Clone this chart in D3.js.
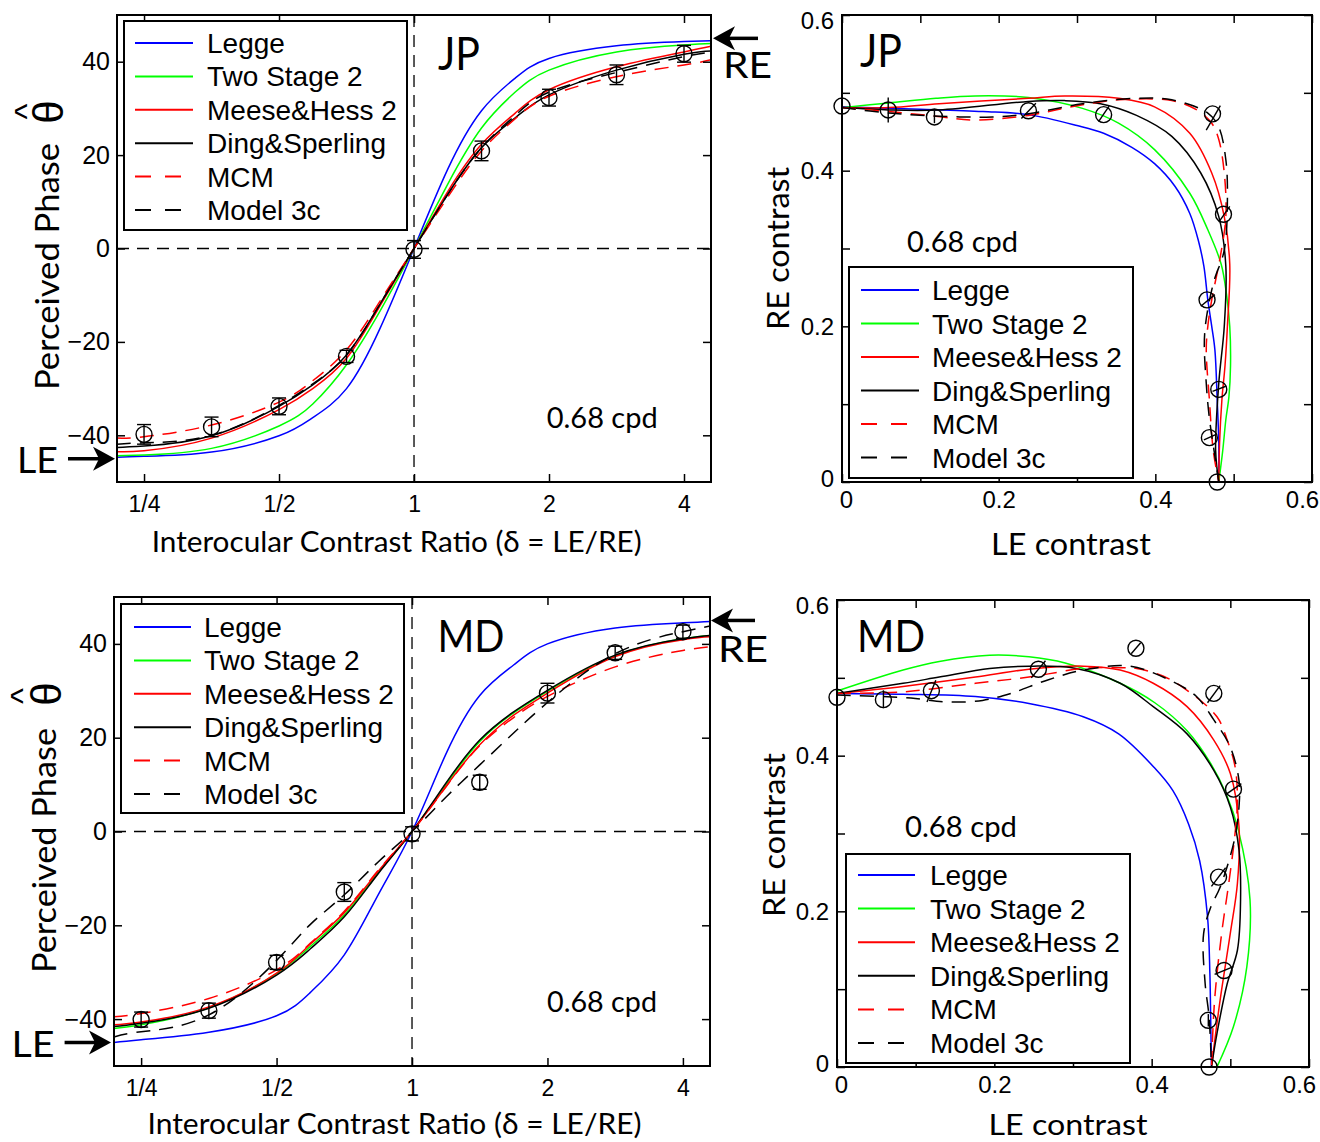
<!DOCTYPE html>
<html><head><meta charset="utf-8">
<script src="https://cdn.jsdelivr.net/npm/d3@7"></script>
<style>body{margin:0;background:#fff}svg{display:block}</style>
</head><body>
<svg id="c" width="1320" height="1142"></svg>
<script>
// ---------------- DATA ----------------
const seriesNames = ["Legge","Two Stage 2","Meese&Hess 2","Ding&Sperling","MCM","Model 3c"];

// interocular contrast ratio (LE/RE) axis
const ratioDomain = [0.2176, 4.5948];
const ratioTicks = [0.25, 0.5, 1, 2, 4];
const ratioTickLabels = ["1/4","1/2","1","2","4"];
const phaseDomain = [-50, 50];
const phaseTicks = [-40, -20, 0, 20, 40];
const eyeAsymptote = [-45, 45];           // LE / RE arrows

// ratios at which the model curves were read
const sampleRatios = [0.2176,0.25,0.3536,0.5,0.5946,0.7071,0.8409,1,1.1892,1.4142,1.6818,2,2.8284,4,4.5948];
// measured ratios
const dataRatios = [0.25,0.3536,0.5,0.7071,1,1.4142,2,2.8284,4];

// JP perceived phase
const jpPhase = [-39.8,-38.2,-33.8,-23.1,-0.2,20.9,32.3,37.2,41.7];
const jpPhaseErr = [2.1,2.1,1.8,1.3,1.9,2.1,1.8,2.1,1.8];
const jpLegge    = [-44.7,-44.5,-43.6,-40.1,-36.2,-30.0,-17.0,0,17.0,29.5,36.5,40.7,43.4,44.3,44.5];
const jpTwoStage = [-44.4,-44.2,-42.8,-38.0,-33.3,-24.9,-13.3,0,13.8,25.8,33.5,38.2,42.1,43.6,43.9];
const jpMeese    = [-43.5,-43.3,-40.6,-34.5,-30.0,-23.5,-12.2,0,12.2,22.3,29.0,34.0,38.9,42.1,43.3];
const jpDing     = [-42.6,-42.3,-40.1,-33.8,-29.2,-22.8,-11.8,0,11.6,21.6,28.0,32.9,38.2,41.6,42.3];
const jpMCM      = [-40.6,-40.3,-37.8,-32.9,-28.3,-21.7,-11.2,0,11.0,20.9,27.8,32.6,36.8,39.3,40.4];
const jpModel3c  = [-41.9,-41.6,-40.0,-33.6,-29.0,-22.8,-11.8,0,11.6,21.6,28.5,33.5,37.7,41.1,42.0];

// MD perceived phase
const mdPhase = [-40.1,-38.2,-27.9,-12.9,-0.5,10.5,29.5,38.1,42.6];
const mdPhaseErr = [1.6,1.6,1.5,2.0,1.5,1.5,2.1,1.4,1.4];
const mdLegge    = [-45.0,-44.4,-42.8,-39.3,-34.3,-26.3,-13.5,0,16.5,29.0,35.5,40.0,43.4,44.5,44.8];
const mdTwoStage = [-42.0,-41.2,-37.6,-30.3,-24.5,-17.8,-8.8,0,10.0,19.2,25.3,29.9,37.5,41.1,41.8];
const mdMeese    = [-41.2,-40.6,-37.4,-30.2,-24.0,-17.3,-8.5,0,9.6,18.5,24.8,29.5,37.3,40.9,41.5];
const mdDing     = [-41.6,-40.9,-37.7,-30.6,-25.0,-18.2,-9.0,0,10.3,19.5,25.5,30.1,37.6,41.1,41.8];
const mdMCM      = [-39.5,-38.8,-35.6,-29.5,-23.8,-17.0,-8.3,0,9.5,18.3,24.3,28.8,35.1,38.6,39.4];
const mdModel3c  = [-43.8,-42.7,-39.1,-27.5,-19.8,-13.5,-6.5,0,7.3,14.2,21.0,27.5,37.9,42.6,43.8];

// contrast axes
const contrastDomain = [0, 0.6];
const contrastTicks = [0,0.1,0.2,0.3,0.4,0.5,0.6];
const contrastTickLabels = ["0","","0.2","","0.4","","0.6"];

// JP: LE contrast / RE contrast
const jpContrastPts = [[0,0.483],[0.059,0.478],[0.118,0.469],[0.238,0.477],[0.334,0.472],[0.473,0.473],[0.487,0.344],[0.466,0.234],[0.481,0.119],[0.469,0.057],[0.479,0]];
const jpContrastErr = [null,[0.059,0.462,0.059,0.494],[0.118,0.461,0.118,0.477],[0.2475,0.4865,0.229,0.467],[0.341,0.483,0.3275,0.463],[0.483,0.4835,0.465,0.452],[0.495,0.354,0.481,0.334],[0.476,0.2407,0.458,0.2257],[0.49,0.123,0.473,0.1165],[0.477,0.061,0.462,0.054],null];
const jpCLegge = [[0,0.482],[0.1,0.479],[0.18,0.476],[0.238,0.472],[0.3,0.458],[0.334,0.448],[0.37,0.43],[0.399,0.409],[0.425,0.38],[0.444,0.345],[0.455,0.31],[0.462,0.277],[0.467,0.234],[0.472,0.2],[0.476,0.17],[0.479,0.105],[0.481,0.05],[0.481,0]];
const jpCTwoStage = [[0,0.481],[0.06,0.487],[0.12,0.493],[0.17,0.496],[0.238,0.494],[0.307,0.48],[0.353,0.461],[0.399,0.427],[0.444,0.371],[0.467,0.324],[0.484,0.28],[0.491,0.24],[0.495,0.2],[0.496,0.15],[0.494,0.11],[0.49,0.08],[0.486,0.04],[0.481,0]];
const jpCMeese = [[0,0.481],[0.06,0.481],[0.124,0.486],[0.238,0.493],[0.284,0.496],[0.353,0.493],[0.399,0.482],[0.444,0.448],[0.472,0.397],[0.488,0.341],[0.495,0.28],[0.492,0.2],[0.489,0.15],[0.485,0.106],[0.482,0.05],[0.481,0]];
const jpCDing = [[0,0.481],[0.06,0.478],[0.124,0.478],[0.238,0.489],[0.284,0.49],[0.33,0.486],[0.376,0.471],[0.421,0.444],[0.458,0.397],[0.481,0.341],[0.49,0.277],[0.488,0.2],[0.481,0.127],[0.477,0.04],[0.481,0]];
const jpCMCM = [[0,0.481],[0.06,0.476],[0.119,0.47],[0.169,0.465],[0.238,0.471],[0.293,0.482],[0.353,0.491],[0.421,0.49],[0.453,0.478],[0.472,0.461],[0.481,0.44],[0.488,0.397],[0.49,0.341],[0.483,0.29],[0.472,0.234],[0.467,0.2],[0.465,0.17],[0.469,0.106],[0.474,0.04],[0.481,0]];
const jpCModel3c = [[0,0.481],[0.06,0.474],[0.124,0.47],[0.192,0.469],[0.238,0.473],[0.307,0.486],[0.376,0.493],[0.421,0.491],[0.467,0.474],[0.481,0.456],[0.49,0.414],[0.492,0.362],[0.488,0.298],[0.474,0.255],[0.463,0.191],[0.465,0.127],[0.469,0.082],[0.475,0.04],[0.481,0]];

// MD: LE contrast / RE contrast
const mdContrastPts = [[0,0.475],[0.059,0.472],[0.12,0.4835],[0.256,0.511],[0.38,0.538],[0.479,0.48],[0.504,0.357],[0.485,0.244],[0.492,0.124],[0.472,0.06],[0.473,0]];
const mdContrastErr = [null,[0.059,0.461,0.059,0.484],[0.1256,0.497,0.1144,0.469],[0.265,0.522,0.247,0.5],[0.386,0.545,0.374,0.531],[0.487,0.49,0.471,0.468],[0.514,0.364,0.494,0.35],[0.494,0.256,0.476,0.232],[0.504,0.129,0.48,0.119],[0.472,0.052,0.472,0.068],null];
const mdCLegge = [[0,0.48],[0.084,0.479],[0.176,0.476],[0.244,0.467],[0.313,0.45],[0.358,0.428],[0.403,0.385],[0.427,0.355],[0.447,0.312],[0.461,0.265],[0.471,0.193],[0.474,0.12],[0.475,0.064],[0.476,0]];
const mdCTwoStage = [[0,0.483],[0.084,0.51],[0.13,0.521],[0.194,0.529],[0.244,0.527],[0.29,0.519],[0.358,0.494],[0.404,0.468],[0.445,0.432],[0.475,0.39],[0.495,0.35],[0.51,0.305],[0.525,0.215],[0.521,0.129],[0.504,0.052],[0.483,0]];
const mdCMeese = [[0,0.48],[0.084,0.489],[0.176,0.501],[0.244,0.511],[0.313,0.515],[0.36,0.51],[0.402,0.493],[0.445,0.463],[0.479,0.42],[0.5,0.377],[0.511,0.309],[0.509,0.236],[0.5,0.172],[0.487,0.086],[0.476,0]];
const mdCDing = [[0,0.48],[0.084,0.493],[0.13,0.501],[0.194,0.512],[0.244,0.515],[0.304,0.512],[0.36,0.493],[0.402,0.463],[0.445,0.428],[0.479,0.381],[0.5,0.334],[0.511,0.279],[0.513,0.215],[0.509,0.15],[0.496,0.107],[0.483,0.043],[0.476,0]];
const mdCMCM = [[0,0.48],[0.084,0.482],[0.176,0.493],[0.244,0.501],[0.313,0.512],[0.36,0.513],[0.381,0.512],[0.415,0.502],[0.445,0.484],[0.483,0.45],[0.496,0.42],[0.506,0.386],[0.509,0.343],[0.506,0.3],[0.498,0.236],[0.489,0.172],[0.48,0.086],[0.476,0]];
const mdCModel3c = [[0,0.478],[0.094,0.474],[0.139,0.469],[0.185,0.471],[0.221,0.48],[0.267,0.497],[0.313,0.51],[0.372,0.515],[0.423,0.497],[0.457,0.476],[0.479,0.446],[0.5,0.411],[0.511,0.368],[0.511,0.334],[0.505,0.291],[0.487,0.231],[0.475,0.205],[0.466,0.171],[0.468,0.107],[0.473,0.064],[0.476,0]];

// ---------------- STYLE ----------------
const seriesColors = ["#0000ff","#00ff00","#ff0000","#000000","#ff0000","#000000"];
const seriesDash = [null,null,null,null,"14,9","14,9"];
const SANS = "'Liberation Sans', Arial, Helvetica, sans-serif";
const HUM = "Lato, 'Open Sans', 'DejaVu Sans', sans-serif";

const svg = d3.select("#c");

function label(x, y, txt, o) {
  const t = svg.append("text").attr("x", x).attr("y", y).text(txt)
    .style("font-family", o.font || HUM).style("font-size", o.size + "px")
    .attr("text-anchor", o.anchor || "start").attr("fill", "#000");
  if (o.rot) t.attr("transform", `rotate(-90,${x},${y})`);
  if (o.len) t.attr("textLength", o.len).attr("lengthAdjust", "spacingAndGlyphs");
  return t;
}

function styleAxis(g, fs, fam) {
  g.select(".domain").remove();
  g.selectAll(".tick line").attr("stroke", "#000").attr("stroke-width", 1.5);
  g.selectAll(".tick text").style("font-family", fam || SANS).style("font-size", fs + "px").attr("fill", "#000");
}

function arrow(xTail, xTip, y) {
  const s = Math.sign(xTip - xTail);
  svg.append("line").attr("x1", xTail).attr("x2", xTip - s * 14).attr("y1", y).attr("y2", y)
    .attr("stroke", "#000").attr("stroke-width", 3.5);
  svg.append("path")
    .attr("d", `M${xTip},${y} L${xTip - s * 22},${y - 12} L${xTip - s * 16},${y} L${xTip - s * 22},${y + 12} Z`)
    .attr("fill", "#000");
}

function legend(L) {
  const g = svg.append("g");
  g.append("rect").attr("x", L.x0).attr("y", L.y0).attr("width", L.x1 - L.x0).attr("height", L.y1 - L.y0)
    .attr("fill", "#fff").attr("stroke", "#000").attr("stroke-width", 2);
  seriesNames.forEach((n, i) => {
    const yy = L.row0 + i * L.dy;
    g.append("line").attr("x1", L.lx0).attr("x2", L.lx1).attr("y1", yy).attr("y2", yy)
      .attr("stroke", seriesColors[i]).attr("stroke-width", 2)
      .attr("stroke-dasharray", seriesDash[i] ? "16,14" : null);
    g.append("text").attr("x", L.tx).attr("y", yy + 10).text(n)
      .style("font-family", SANS).style("font-size", "28px").attr("fill", "#000");
  });
}

function phasePanel(p) {
  const g = svg.append("g");
  const x = d3.scaleLog().base(2).domain(ratioDomain).range([p.l, p.r]);
  const y = d3.scaleLinear().domain(phaseDomain).range([p.b, p.t]);
  g.append("line").attr("x1", p.l).attr("x2", p.r).attr("y1", y(0)).attr("y2", y(0))
    .attr("stroke", "#000").attr("stroke-width", 1.3).attr("stroke-dasharray", "12,8");
  g.append("line").attr("x1", x(1)).attr("x2", x(1)).attr("y1", p.t).attr("y2", p.b)
    .attr("stroke", "#000").attr("stroke-width", 1.3).attr("stroke-dasharray", "12,8");
  const line = d3.line().x((d, j) => x(sampleRatios[j])).y(d => y(d)).curve(d3.curveNatural);
  p.curves.forEach((vals, i) => {
    g.append("path").attr("d", line(vals)).attr("fill", "none")
      .attr("stroke", seriesColors[i]).attr("stroke-width", 1.5)
      .attr("stroke-dasharray", seriesDash[i]);
  });
  p.phase.forEach((v, i) => {
    const cx = x(dataRatios[i]), e = p.err[i];
    const y1 = y(v - e), y2 = y(v + e);
    g.append("line").attr("x1", cx).attr("x2", cx).attr("y1", y1).attr("y2", y2).attr("stroke", "#000").attr("stroke-width", 1.4);
    [y1, y2].forEach(yy => g.append("line").attr("x1", cx - 7).attr("x2", cx + 7).attr("y1", yy).attr("y2", yy).attr("stroke", "#000").attr("stroke-width", 1.4));
    g.append("circle").attr("cx", cx).attr("cy", y(v)).attr("r", 8).attr("fill", "none").attr("stroke", "#000").attr("stroke-width", 1.4);
  });
  g.append("rect").attr("x", p.l).attr("y", p.t).attr("width", p.r - p.l).attr("height", p.b - p.t)
    .attr("fill", "none").attr("stroke", "#000").attr("stroke-width", 2);
  g.append("g").attr("transform", `translate(0,${p.b})`)
    .call(d3.axisBottom(x).tickValues(ratioTicks).tickFormat((d, i) => ratioTickLabels[i]).tickSize(-8).tickPadding(14))
    .call(a => styleAxis(a, 23));
  g.append("g").attr("transform", `translate(0,${p.t})`)
    .call(d3.axisTop(x).tickValues(ratioTicks).tickFormat("").tickSize(-8)).call(a => styleAxis(a, 23));
  g.append("g").attr("transform", `translate(${p.l},0)`)
    .call(d3.axisLeft(y).tickValues(phaseTicks).tickSize(-8).tickPadding(7)).call(a => styleAxis(a, 25));
  g.append("g").attr("transform", `translate(${p.r},0)`)
    .call(d3.axisRight(y).tickValues(phaseTicks).tickFormat("").tickSize(-8)).call(a => styleAxis(a, 25));
  return { x, y };
}

function contourPanel(p) {
  const g = svg.append("g");
  const x = d3.scaleLinear().domain(contrastDomain).range([p.l, p.r]);
  const y = d3.scaleLinear().domain(contrastDomain).range([p.b, p.t]);
  const line = d3.line().x(d => x(d[0])).y(d => y(d[1])).curve(d3.curveCatmullRom.alpha(0.5));
  p.curves.forEach((pts, i) => {
    g.append("path").attr("d", line(pts)).attr("fill", "none")
      .attr("stroke", seriesColors[i]).attr("stroke-width", 1.5)
      .attr("stroke-dasharray", seriesDash[i]);
  });
  p.pts.forEach((pt, i) => {
    const e = p.err[i];
    if (e) g.append("line").attr("x1", x(e[0])).attr("y1", y(e[1])).attr("x2", x(e[2])).attr("y2", y(e[3]))
      .attr("stroke", "#000").attr("stroke-width", 1.4);
    g.append("circle").attr("cx", x(pt[0])).attr("cy", y(pt[1])).attr("r", 8)
      .attr("fill", "none").attr("stroke", "#000").attr("stroke-width", 1.4);
  });
  g.append("rect").attr("x", p.l).attr("y", p.t).attr("width", p.r - p.l).attr("height", p.b - p.t)
    .attr("fill", "none").attr("stroke", "#000").attr("stroke-width", 2);
  const fmt = (d, i) => contrastTickLabels[i];
  g.append("g").attr("transform", `translate(0,${p.b})`)
    .call(d3.axisBottom(x).tickValues(contrastTicks).tickFormat(fmt).tickSize(-8).tickPadding(9))
    .call(a => styleAxis(a, 24))
    .call(a => a.selectAll(".tick text").attr("dx", d => d === 0 ? 4 : (d === 0.6 ? -10 : 0)));
  g.append("g").attr("transform", `translate(0,${p.t})`)
    .call(d3.axisTop(x).tickValues(contrastTicks).tickFormat("").tickSize(-8)).call(a => styleAxis(a, 24));
  g.append("g").attr("transform", `translate(${p.l},0)`)
    .call(d3.axisLeft(y).tickValues(contrastTicks).tickFormat(fmt).tickSize(-8).tickPadding(8))
    .call(a => styleAxis(a, 24))
    .call(a => a.selectAll(".tick text").attr("transform", d => d === 0.6 ? "translate(0,6)" : (d === 0 ? "translate(0,-3)" : null)));
  g.append("g").attr("transform", `translate(${p.r},0)`)
    .call(d3.axisRight(y).tickValues(contrastTicks).tickFormat("").tickSize(-8)).call(a => styleAxis(a, 24));
}

// ---------------- PANELS ----------------
const tl = phasePanel({ l: 117, r: 711, t: 15, b: 482, phase: jpPhase, err: jpPhaseErr,
  curves: [jpLegge, jpTwoStage, jpMeese, jpDing, jpMCM, jpModel3c] });
const bl = phasePanel({ l: 114, r: 710, t: 597, b: 1066, phase: mdPhase, err: mdPhaseErr,
  curves: [mdLegge, mdTwoStage, mdMeese, mdDing, mdMCM, mdModel3c] });
contourPanel({ l: 842, r: 1312, t: 15, b: 482, pts: jpContrastPts, err: jpContrastErr,
  curves: [jpCLegge, jpCTwoStage, jpCMeese, jpCDing, jpCMCM, jpCModel3c] });
contourPanel({ l: 837, r: 1309, t: 600, b: 1067, pts: mdContrastPts, err: mdContrastErr,
  curves: [mdCLegge, mdCTwoStage, mdCMeese, mdCDing, mdCMCM, mdCModel3c] });

legend({ x0: 124, y0: 21, x1: 407, y1: 230, lx0: 135, lx1: 193, tx: 207, row0: 43, dy: 33.4 });
legend({ x0: 849, y0: 267, x1: 1133, y1: 478, lx0: 861, lx1: 919, tx: 932, row0: 290, dy: 33.5 });
legend({ x0: 121, y0: 604, x1: 404, y1: 813, lx0: 134, lx1: 191, tx: 204, row0: 627, dy: 33.4 });
legend({ x0: 846, y0: 854, x1: 1130, y1: 1063, lx0: 858, lx1: 915, tx: 930, row0: 875, dy: 33.6 });

// ---------------- TEXT ----------------
label(59, 266.5, "Perceived Phase", { size: 32, anchor: "middle", rot: true, len: 247 });
label(63, 112, "θ", { font: SANS, size: 42, anchor: "middle", rot: true });
label(38, 111.5, "^", { font: SANS, size: 34, anchor: "middle", rot: true });
label(56, 850.5, "Perceived Phase", { size: 32, anchor: "middle", rot: true, len: 245 });
label(61, 694, "θ", { font: SANS, size: 42, anchor: "middle", rot: true });
label(34, 696, "^", { font: SANS, size: 34, anchor: "middle", rot: true });

label(396.7, 552, "Interocular Contrast Ratio (δ = LE/RE)", { size: 28, anchor: "middle", len: 490 });
label(394.5, 1134, "Interocular Contrast Ratio (δ = LE/RE)", { size: 28, anchor: "middle", len: 494 });

label(789, 248.5, "RE contrast", { size: 30, anchor: "middle", rot: true, len: 163 });
label(785, 835, "RE contrast", { size: 30, anchor: "middle", rot: true, len: 164 });
label(1071, 555, "LE contrast", { size: 30, anchor: "middle", len: 160 });
label(1068, 1135, "LE contrast", { size: 29, anchor: "middle", len: 159 });

label(546.7, 428, "0.68 cpd", { size: 28, len: 111 });
label(907, 252, "0.68 cpd", { size: 28, len: 111 });
label(547, 1012, "0.68 cpd", { size: 28, len: 110 });
label(905, 837, "0.68 cpd", { size: 28, len: 112 });

label(438, 70, "JP", { size: 46, len: 42 });
label(860, 67, "JP", { size: 46, len: 42 });
label(437.5, 652, "MD", { size: 44, len: 67 });
label(857, 652, "MD", { size: 44, len: 68 });

label(17, 473, "LE", { size: 36, len: 41 });
label(723, 78, "RE", { size: 36, len: 49 });
label(11.5, 1057, "LE", { size: 36, len: 43 });
label(718, 662, "RE", { size: 36, len: 50 });

arrow(68, 115, tl.y(eyeAsymptote[0]));
arrow(758, 713, tl.y(eyeAsymptote[1]));
arrow(64.6, 111, bl.y(eyeAsymptote[0]));
arrow(755, 711, bl.y(eyeAsymptote[1]));
</script>
</body></html>
